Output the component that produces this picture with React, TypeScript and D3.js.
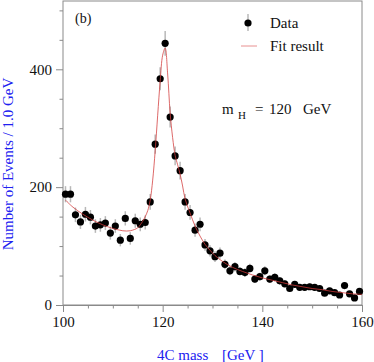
import * as d3 from "d3";
import React, { useEffect, useRef } from "react";

// bin centres (1 GeV bins) and event counts
const massBins = [
  100.5, 101.5, 102.5, 103.5, 104.5, 105.5, 106.5, 107.5, 108.5, 109.5,
  110.5, 111.5, 112.5, 113.5, 114.5, 115.5, 116.5, 117.5, 118.5, 119.5,
  120.5, 121.5, 122.5, 123.5, 124.5, 125.5, 126.5, 127.5, 128.5, 129.5,
  130.5, 131.5, 132.5, 133.5, 134.5, 135.5, 136.5, 137.5, 138.5, 139.5,
  140.5, 141.5, 142.5, 143.5, 144.5, 145.5, 146.5, 147.5, 148.5, 149.5,
  150.5, 151.5, 152.5, 153.5, 154.5, 155.5, 156.5, 157.5, 158.5, 159.5,
];
const eventCounts = [
  188, 188, 153, 141, 154, 149, 134, 136, 139, 122,
  134, 110, 147, 113, 143, 137, 140, 175, 273, 384,
  444, 319, 253, 228, 175, 157, 127, 137, 102, 92,
  82, 88, 69, 58, 65, 57, 55, 62, 44, 48,
  58, 44, 47, 41, 36, 28, 35, 30, 30, 31,
  30, 28, 20, 24, 21, 17, 33, 19, 12, 23,
];

// fit curve
const fitMass = [
  100.5, 102, 104, 106, 108, 110, 112, 113.5, 115, 115.5, 116, 116.5, 117,
  117.5, 118, 118.5, 119, 119.5, 120, 120.5, 121, 121.5, 122, 122.5, 123,
  123.5, 124, 124.5, 125.5, 126.5, 127.5, 128.5, 129.5, 130.5, 132, 134,
  136, 138, 140, 142, 144, 146, 148, 150, 152, 154, 156, 158, 160,
];
const fitCounts = [
  178, 166, 154, 144, 136, 130, 126, 126, 131, 136, 142, 150, 160,
  178, 212, 262, 322, 380, 424, 436, 392, 326, 284, 254, 238,
  222, 202, 180, 156, 134, 117, 103, 93, 84, 74, 64,
  57, 51, 46, 42, 38, 34, 31, 28, 26, 23, 21, 19, 18,
];

const xTicks = [100, 120, 140, 160];
const yTicks = [0, 200, 400];

const serif = "'Liberation Serif', 'Times New Roman', serif";

const App = () => {
  const svgRef = useRef<SVGSVGElement>(null);

  useEffect(() => {
    const svg = d3.select(svgRef.current);
    svg.selectAll("*").remove();

    const left = 63;
    const right = 362;
    const top = 1;
    const bottom = 305;

    const x = d3.scaleLinear().domain([100, 160]).range([left, right]);
    const y = d3.scaleLinear().domain([0, 400]).range([bottom, 69.3]);
    const yTop = y.invert(top);

    // frame
    svg
      .append("rect")
      .attr("x", left)
      .attr("y", top)
      .attr("width", right - left)
      .attr("height", bottom - top)
      .attr("fill", "none")
      .attr("stroke", "#8a8a8a")
      .attr("stroke-width", 1);

    // x axis
    const xAxis = svg
      .append("g")
      .attr("transform", `translate(0,${bottom})`)
      .call(
        d3
          .axisBottom(x)
          .tickValues(xTicks)
          .tickSize(7)
          .tickPadding(4)
          .tickFormat(d3.format("d"))
      );
    xAxis.select(".domain").attr("stroke", "#8a8a8a");
    xAxis.selectAll("line").attr("stroke", "#8a8a8a");
    xAxis
      .selectAll("text")
      .attr("font-family", serif)
      .attr("font-size", 15)
      .attr("fill", "#111");

    svg
      .append("g")
      .attr("transform", `translate(0,${bottom})`)
      .call(
        d3
          .axisBottom(x)
          .tickValues(d3.range(105, 160, 5).filter((v) => v % 20 !== 0))
          .tickSize(3.5)
          .tickFormat(() => "")
      )
      .call((g) => g.select(".domain").remove())
      .selectAll("line")
      .attr("stroke", "#8a8a8a");

    // y axis
    const yAxis = svg
      .append("g")
      .attr("transform", `translate(${left},0)`)
      .call(
        d3
          .axisLeft(y)
          .tickValues(yTicks)
          .tickSize(7)
          .tickPadding(4)
          .tickFormat(d3.format("d"))
      );
    yAxis.select(".domain").remove();
    yAxis.selectAll("line").attr("stroke", "#8a8a8a");
    yAxis
      .selectAll("text")
      .attr("font-family", serif)
      .attr("font-size", 15)
      .attr("fill", "#111");

    svg
      .append("g")
      .attr("transform", `translate(${left},0)`)
      .call(
        d3
          .axisLeft(y)
          .tickValues(d3.range(50, yTop, 50).filter((v) => v % 200 !== 0))
          .tickSize(3.5)
          .tickFormat(() => "")
      )
      .call((g) => g.select(".domain").remove())
      .selectAll("line")
      .attr("stroke", "#8a8a8a");

    // axis titles
    svg
      .append("text")
      .attr("transform", "translate(13,164) rotate(-90)")
      .attr("text-anchor", "middle")
      .attr("font-family", serif)
      .attr("font-size", 15)
      .attr("fill", "#2020f0")
      .text("Number of Events / 1.0 GeV");

    const xt = svg
      .append("text")
      .attr("y", 360)
      .attr("font-family", serif)
      .attr("font-size", 15)
      .attr("fill", "#2020f0");
    xt.append("tspan").attr("x", 157).text("4C mass");
    xt.append("tspan").attr("x", 222).text("[GeV ]");

    // error bars
    const data = massBins.map((m, i) => ({ m, n: eventCounts[i] }));
    svg
      .append("g")
      .selectAll("line")
      .data(data)
      .enter()
      .append("line")
      .attr("x1", (d) => x(d.m))
      .attr("x2", (d) => x(d.m))
      .attr("y1", (d) => y(d.n + Math.sqrt(d.n)))
      .attr("y2", (d) => y(Math.max(0, d.n - Math.sqrt(d.n))))
      .attr("stroke", "#b8b8b8")
      .attr("stroke-width", 1.5);

    // fit curve
    const fit = fitMass.map((m, i) => ({ m, n: fitCounts[i] }));
    const line = d3
      .line<{ m: number; n: number }>()
      .x((d) => x(d.m))
      .y((d) => y(d.n))
      .curve(d3.curveCatmullRom.alpha(0.5));

    // markers
    svg
      .append("g")
      .selectAll("circle")
      .data(data)
      .enter()
      .append("circle")
      .attr("cx", (d) => x(d.m))
      .attr("cy", (d) => y(d.n))
      .attr("r", 3.6)
      .attr("fill", "#000");

    svg
      .append("path")
      .datum(fit)
      .attr("fill", "none")
      .attr("stroke", "#d23a3a")
      .attr("stroke-width", 0.9)
      .attr("stroke-opacity", 0.85)
      .attr("d", line);

    // label (b)
    svg
      .append("text")
      .attr("x", 75)
      .attr("y", 23)
      .attr("font-family", serif)
      .attr("font-size", 14)
      .attr("fill", "#111")
      .text("(b)");

    // legend
    const lg = svg.append("g");
    lg.append("line")
      .attr("x1", 248)
      .attr("x2", 248)
      .attr("y1", 14)
      .attr("y2", 31)
      .attr("stroke", "#b8b8b8")
      .attr("stroke-width", 1.5);
    lg.append("circle").attr("cx", 248).attr("cy", 23).attr("r", 3.6).attr("fill", "#000");
    lg.append("text")
      .attr("x", 270)
      .attr("y", 28)
      .attr("font-family", serif)
      .attr("font-size", 15)
      .attr("fill", "#111")
      .text("Data");
    lg.append("line")
      .attr("x1", 241)
      .attr("x2", 257)
      .attr("y1", 46)
      .attr("y2", 46)
      .attr("stroke", "#e89090")
      .attr("stroke-width", 1);
    lg.append("text")
      .attr("x", 270)
      .attr("y", 51)
      .attr("font-family", serif)
      .attr("font-size", 15)
      .attr("fill", "#111")
      .text("Fit result");

    // mass annotation
    const ann = svg
      .append("g")
      .attr("font-family", serif)
      .attr("font-size", 15)
      .attr("fill", "#111");
    ann.append("text").attr("x", 222).attr("y", 114).text("m");
    ann.append("text").attr("x", 238).attr("y", 119).attr("font-size", 11).text("H");
    ann.append("text").attr("x", 255).attr("y", 114).text("=");
    ann.append("text").attr("x", 269).attr("y", 114).text("120");
    ann.append("text").attr("x", 303).attr("y", 114).text("GeV");
  }, []);

  return (
    <svg
      ref={svgRef}
      width={374}
      height={362}
      style={{ position: "absolute", left: 0, top: 0, background: "#fff" }}
    />
  );
};

export default App;
